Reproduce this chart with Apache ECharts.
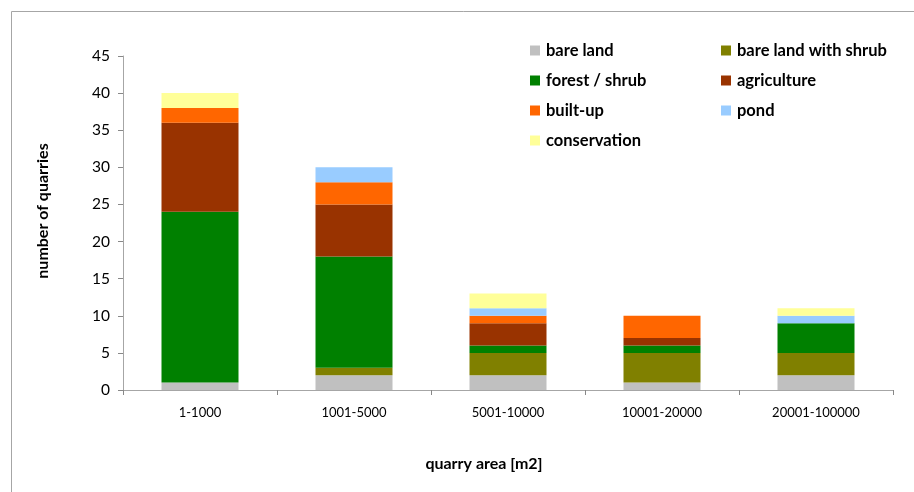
<!DOCTYPE html>
<html><head><meta charset="utf-8">
<script src="https://cdn.jsdelivr.net/npm/echarts@6/dist/echarts.min.js"></script>
<style>html,body{margin:0;padding:0;background:#fff}#c{width:914px;height:492px}</style>
</head><body><div id="c"></div>
<script>
var categories = ['1-1000', '1001-5000', '5001-10000', '10001-20000', '20001-100000'];
var bareLand = [1, 2, 2, 1, 2];
var bareLandWithShrub = [0, 1, 3, 4, 3];
var forestShrub = [23, 15, 1, 1, 4];
var agriculture = [12, 7, 3, 1, 0];
var builtUp = [2, 3, 1, 3, 0];
var pond = [0, 2, 1, 0, 1];
var conservation = [2, 0, 2, 0, 1];
var yTicks = [0, 5, 10, 15, 20, 25, 30, 35, 40, 45];

var seriesNames = ['bare land', 'bare land with shrub', 'forest / shrub', 'agriculture', 'built-up', 'pond', 'conservation'];
var seriesData = [bareLand, bareLandWithShrub, forestShrub, agriculture, builtUp, pond, conservation];
var colors = ['#C0C0C0', '#808000', '#008000', '#993300', '#FF6600', '#99CCFF', '#FFFF99'];

var font = 'Lato, "Open Sans", sans-serif';
var chart = echarts.init(document.getElementById('c'), null, {renderer: 'canvas'});
var legendText = {fontFamily: font, fontWeight: 'bold', fontSize: 16.5, color: '#000', padding: [0, 0, 0, 1]};
var titleStyle = {fontFamily: font, fontWeight: 'bold', fontSize: 16, fill: '#000', align: 'center', verticalAlign: 'middle'};
chart.setOption({
  animation: false,
  backgroundColor: '#fff',
  color: colors,
  graphic: [
    {type: 'rect', shape: {x: 11.5, y: 11.5, width: 920, height: 500}, style: {fill: 'none', stroke: '#a6a6a6', lineWidth: 1}, silent: true},
    {type: 'text', x: 484, y: 464, style: Object.assign({text: 'quarry area [m2]'}, titleStyle), silent: true},
    {type: 'text', x: 43, y: 211, rotation: Math.PI / 2, style: Object.assign({text: 'number of quarries'}, titleStyle), silent: true}
  ],
  legend: [
    {orient: 'vertical', left: 525, top: 37, itemWidth: 10, itemHeight: 10, itemGap: 13, textStyle: legendText,
     icon: 'rect', data: ['bare land', 'forest / shrub', 'built-up', 'conservation']},
    {orient: 'vertical', left: 716, top: 37, itemWidth: 10, itemHeight: 10, itemGap: 13, textStyle: legendText,
     icon: 'rect', data: ['bare land with shrub', 'agriculture', 'pond']}
  ],
  grid: {left: 123, top: 56, right: 21, bottom: 102, containLabel: false},
  xAxis: {
    type: 'category', data: categories,
    axisLine: {lineStyle: {color: '#a6a6a6', width: 1}},
    axisTick: {show: true, alignWithLabel: false, length: 5, lineStyle: {color: '#888'}},
    axisLabel: {fontFamily: font, fontSize: 13, color: '#000', margin: 16}
  },
  yAxis: {
    type: 'value', min: 0, max: 45, interval: 5,
    axisLine: {show: true, lineStyle: {color: '#a6a6a6', width: 1}},
    axisTick: {show: true, length: 5, lineStyle: {color: '#888'}},
    splitLine: {show: false},
    axisLabel: {fontFamily: font, fontSize: 15.5, color: '#000', margin: 13,
      formatter: function (v) { return yTicks.indexOf(v) >= 0 ? String(v) : ''; }}
  },
  series: seriesNames.map(function (n, i) {
    return {name: n, type: 'bar', stack: 'total', barWidth: '50%', data: seriesData[i],
            itemStyle: {color: colors[i]}};
  })
});
</script></body></html>
